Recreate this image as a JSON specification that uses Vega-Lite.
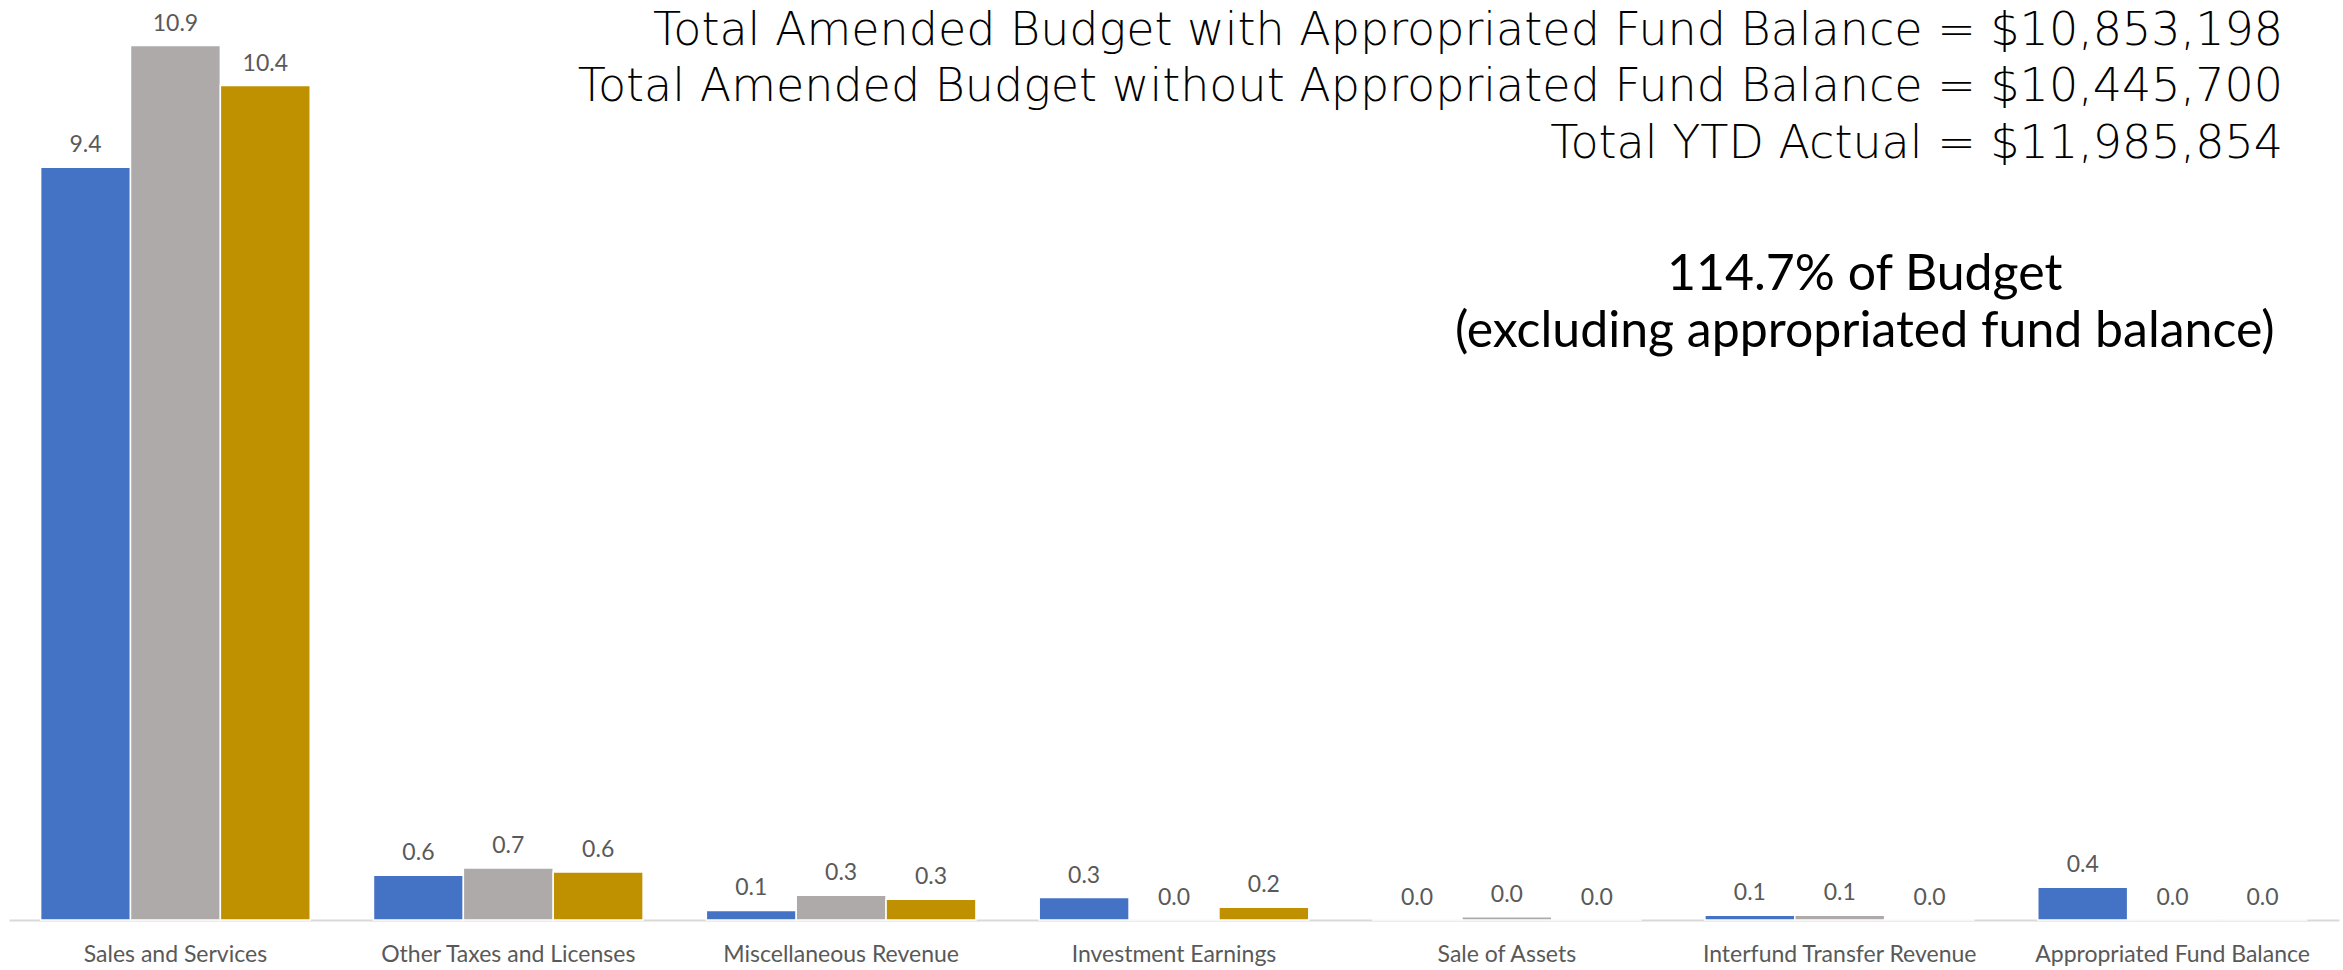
{
  "$schema": "https://vega.github.io/schema/vega-lite/v6.json",
  "width": 2330,
  "height": 900,
  "autosize": {"type": "none"},
  "padding": {"left": 9, "top": 20, "right": 4, "bottom": 50},
  "background": "white",
  "config": {"view": {"stroke": null}},
  "title": {
    "text": ["Total Amended Budget with Appropriated Fund Balance = $10,853,198", "Total Amended Budget without Appropriated Fund Balance = $10,445,700", "Total YTD Actual = $11,985,854"],
    "anchor": "end",
    "frame": "group",
    "orient": "top",
    "offset": -155,
    "dx": -56,
    "font": "DejaVu Sans",
    "fontWeight": 200,
    "fontSize": 46,
    "lineHeight": 56.5,
    "color": "#000000"
  },
  "data": {
    "values": [
      {"category": "Sales and Services", "series": "Amended Budget", "value": 9.41},
      {"category": "Sales and Services", "series": "YTD Actual", "value": 10.93},
      {"category": "Sales and Services", "series": "Prior YTD Actual", "value": 10.43},
      {"category": "Other Taxes and Licenses", "series": "Amended Budget", "value": 0.56},
      {"category": "Other Taxes and Licenses", "series": "YTD Actual", "value": 0.65},
      {"category": "Other Taxes and Licenses", "series": "Prior YTD Actual", "value": 0.6},
      {"category": "Miscellaneous Revenue", "series": "Amended Budget", "value": 0.12},
      {"category": "Miscellaneous Revenue", "series": "YTD Actual", "value": 0.31},
      {"category": "Miscellaneous Revenue", "series": "Prior YTD Actual", "value": 0.26},
      {"category": "Investment Earnings", "series": "Amended Budget", "value": 0.28},
      {"category": "Investment Earnings", "series": "YTD Actual", "value": 0.0},
      {"category": "Investment Earnings", "series": "Prior YTD Actual", "value": 0.16},
      {"category": "Sale of Assets", "series": "Amended Budget", "value": 0.0},
      {"category": "Sale of Assets", "series": "YTD Actual", "value": 0.04},
      {"category": "Sale of Assets", "series": "Prior YTD Actual", "value": 0.0},
      {"category": "Interfund Transfer Revenue", "series": "Amended Budget", "value": 0.06},
      {"category": "Interfund Transfer Revenue", "series": "YTD Actual", "value": 0.06},
      {"category": "Interfund Transfer Revenue", "series": "Prior YTD Actual", "value": 0.0},
      {"category": "Appropriated Fund Balance", "series": "Amended Budget", "value": 0.41},
      {"category": "Appropriated Fund Balance", "series": "YTD Actual", "value": 0.0},
      {"category": "Appropriated Fund Balance", "series": "Prior YTD Actual", "value": 0.0}
    ]
  },
  "layer": [
    {
      "mark": {"type": "bar", "stroke": "white", "strokeWidth": 1.5},
      "encoding": {
        "x": {
          "field": "category",
          "type": "nominal",
          "sort": null,
          "scale": {"paddingInner": 0.19, "paddingOuter": 0.095},
          "axis": {
            "title": null,
            "labelAngle": 0,
            "ticks": false,
            "labelPadding": 23,
            "labelLimit": 0,
            "labelFont": "Lato",
            "labelFontSize": 23,
            "labelColor": "#595959",
            "domainColor": "#D9D9D9",
            "domainWidth": 2,
            "grid": false
          }
        },
        "xOffset": {"field": "series", "type": "nominal", "sort": ["Amended Budget", "YTD Actual", "Prior YTD Actual"], "scale": {"paddingInner": 0, "paddingOuter": 0}},
        "y": {"field": "value", "type": "quantitative", "scale": {"domain": [0, 11.25], "nice": false}, "axis": null},
        "color": {
          "field": "series",
          "type": "nominal",
          "sort": ["Amended Budget", "YTD Actual", "Prior YTD Actual"],
          "scale": {"domain": ["Amended Budget", "YTD Actual", "Prior YTD Actual"], "range": ["#4472C4", "#AEAAAA", "#BF9000"]},
          "legend": null
        }
      }
    },
    {
      "mark": {"type": "text", "baseline": "bottom", "dy": -10, "font": "Lato", "fontSize": 23, "color": "#595959"},
      "encoding": {
        "x": {"field": "category", "type": "nominal", "sort": null},
        "xOffset": {"field": "series", "type": "nominal", "sort": ["Amended Budget", "YTD Actual", "Prior YTD Actual"]},
        "y": {"field": "value", "type": "quantitative"},
        "text": {"field": "value", "type": "quantitative", "format": ".1f"}
      }
    },
    {
      "data": {"values": [{"note": "114.7% of Budget", "k": 8.06}, {"note": "(excluding appropriated fund balance)", "k": 7.35}]},
      "mark": {"type": "text", "align": "center", "baseline": "middle", "font": "Lato", "fontSize": 50, "color": "#000000", "dx": 25},
      "encoding": {
        "x": {"datum": "Interfund Transfer Revenue"},
        "y": {"field": "k", "type": "quantitative"},
        "text": {"field": "note"}
      }
    }
  ]
}
